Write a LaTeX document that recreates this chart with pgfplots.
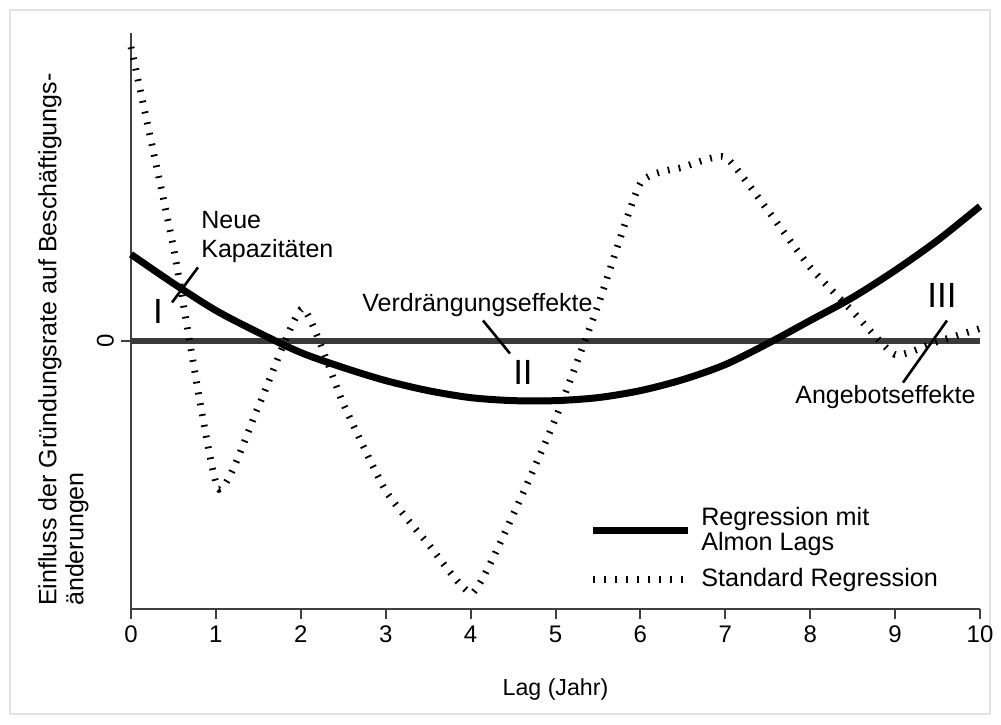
\documentclass[border=0pt]{standalone}
\usepackage{fontspec}
\setmainfont{Liberation Sans}
\usepackage{pgfplots}
\pgfplotsset{compat=1.18}
\definecolor{axisgray}{HTML}{404040}
\definecolor{zerogray}{HTML}{3A3A3A}
\definecolor{framegray}{HTML}{E4E4E4}

\begin{document}
\begin{tikzpicture}
\useasboundingbox (-65.5pt,-57.5pt) rectangle (435pt,304.5pt);
\draw[framegray, line width=0.6pt] (-60.5pt,-52.5pt) rectangle (429.5pt,299.5pt);
\begin{axis}[
  scale only axis,
  width=424.5pt, height=288pt,
  xmin=0, xmax=10, ymin=-2.68, ymax=3.07,
  axis x line*=bottom, axis y line*=left,
  axis line style={axisgray, line width=1pt},
  xtick={0,1,...,10}, ytick={0},
  tick align=outside,
  major tick length=5pt,
  tick style={axisgray, line width=1pt},
  /pgf/number format/assume math mode=true,
  ticklabel style={font=\fontsize{12}{13}\selectfont},
  yticklabel style={rotate=90, anchor=south},
  xlabel={Lag (Jahr)},
  xlabel style={font=\fontsize{11.6}{13}\selectfont, at={(rel axis cs:0.5,-0.1406)}, anchor=center},
  ylabel={Einfluss der Gründungsrate auf Beschäftigungs-\\änderungen},
  ylabel style={font=\fontsize{12.5}{13.5}\selectfont, align=left, at={(rel axis cs:-0.1097,0.005)}, anchor=north west, inner sep=0pt},
  clip=false,
  legend style={at={(axis cs:5.393,-1.62)}, anchor=north west, draw=none, fill=none,
    font=\fontsize{12.6}{12.5}\selectfont, row sep=3.5pt, column sep=3pt, cells={align=left}, inner sep=0pt},
  legend cell align=left,
  legend image code/.code={\draw[#1] (0pt,0pt) -- (47.5pt,0pt);},
]
% zero line
\addplot[forget plot, zerogray, line width=3pt] coordinates {(0,0) (10,0)};

% Regression mit Almon Lags
\addplot[black, line width=3.5pt, smooth] table {
x y
0 0.86
0.5 0.57
1 0.30
1.5 0.08
2 -0.12
2.5 -0.27
3 -0.40
3.5 -0.50
4 -0.57
4.5 -0.60
5 -0.60
5.5 -0.57
6 -0.50
6.5 -0.39
7 -0.24
7.5 -0.03
8 0.20
8.5 0.43
9 0.70
9.5 1.00
10 1.34
};
\addlegendentry{Regression mit\\Almon Lags}

% Standard Regression (short ticks across the path)
\addplot[black, line width=3.4pt, line cap=butt, dash pattern=on 0.9pt off 4.6pt, smooth, tension=0.3] table {
x y
0 2.93
0.5 0.93
1.02 -1.47
1.5 -0.66
2.02 0.32
2.5 -0.63
3 -1.50
3.5 -2.03
4.02 -2.52
4.5 -1.74
5 -0.78
5.5 0.35
6 1.57
6.5 1.73
7 1.83
7.5 1.30
8 0.73
8.5 0.29
9 -0.14
9.5 -0.01
10 0.12
};
\addlegendentry{Standard Regression}

% annotations
\node[font=\fontsize{17.5}{20}\selectfont, inner sep=0pt] at (axis cs:0.318,0.29) {I};
\draw[line width=1.3pt] (axis cs:0.483,0.38) -- (axis cs:0.789,0.73);
\node[anchor=west, align=left, inner sep=0pt, font=\fontsize{12.5}{14.5}\selectfont] at (axis cs:0.824,1.03) {Neue\\Kapazitäten};

\node[anchor=west, inner sep=0pt, font=\fontsize{12.5}{14}\selectfont] at (axis cs:2.72,0.35) {Verdrängungseffekte};
\draw[line width=1.3pt] (axis cs:4.146,0.20) -- (axis cs:4.464,-0.13);
\node[font=\fontsize{17.5}{20}\selectfont, inner sep=0pt] at (axis cs:4.617,-0.32) {II};

\node[font=\fontsize{17.5}{20}\selectfont, inner sep=0pt] at (axis cs:9.552,0.45) {III};
\draw[line width=1.3pt] (axis cs:9.611,0.20) -- (axis cs:9.093,-0.42);
\node[anchor=west, inner sep=0pt, font=\fontsize{12.5}{14}\selectfont] at (axis cs:7.82,-0.56) {Angebotseffekte};
\end{axis}
\end{tikzpicture}
\end{document}
